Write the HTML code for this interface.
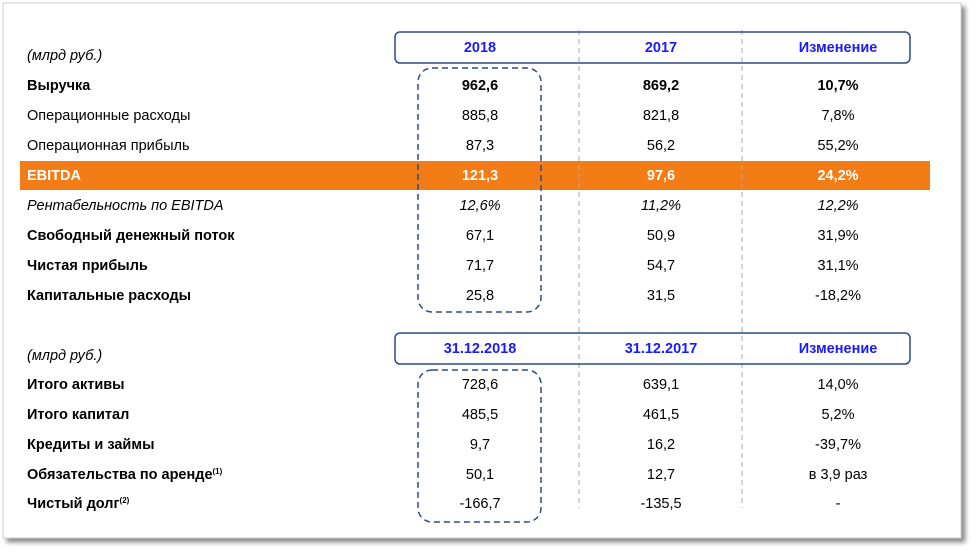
<!DOCTYPE html>
<html><head><meta charset="utf-8"><style>
body{margin:0;background:#fff;width:978px;height:554px;overflow:hidden;font-family:"Liberation Sans",Arial,sans-serif;}
svg text{font-family:"Liberation Sans",Arial,sans-serif;font-size:14.5px;fill:#000;}
</style></head><body>
<svg width="978" height="554" xmlns="http://www.w3.org/2000/svg">
<defs><filter id="sh" x="-5%" y="-5%" width="110%" height="110%"><feDropShadow dx="4" dy="4" stdDeviation="2.5" flood-color="#000" flood-opacity="0.45"/></filter></defs>
<rect x="3" y="3" width="958" height="535" fill="#fff" stroke="#ccc" stroke-width="1" filter="url(#sh)"/>
<rect x="20" y="161" width="910" height="29" fill="#f47c16"/>
<g stroke="#aaa" stroke-dasharray="5,4" stroke-width="1">
<line x1="579" y1="30" x2="579" y2="508"/><line x1="742" y1="30" x2="742" y2="508"/>
</g>
<g fill="none" stroke="#2d4a8a" stroke-width="1.5">
<rect x="395" y="32" width="515" height="31" rx="5"/>
<rect x="395" y="333" width="515" height="31" rx="5"/>
</g>
<g fill="none" stroke="#2d4a8a" stroke-width="1.5" stroke-dasharray="6,4">
<rect x="418" y="68" width="123" height="244" rx="14"/>
<rect x="418" y="370" width="123" height="152" rx="14"/>
</g>
<g font-weight="bold" text-anchor="middle">
<text x="480" y="52" style="fill:#1a1aff">2018</text><text x="661" y="52" style="fill:#1a1aff">2017</text><text x="838" y="52" style="fill:#1a1aff">Изменение</text>
<text x="480" y="353" style="fill:#1a1aff">31.12.2018</text><text x="661" y="353" style="fill:#1a1aff">31.12.2017</text><text x="838" y="353" style="fill:#1a1aff">Изменение</text>
</g>
<text x="27" y="60" font-style="italic">(млрд руб.)</text>
<text x="27" y="360" font-style="italic">(млрд руб.)</text>
<g>
<text x="27" y="90" font-weight="bold">Выручка</text>
<text x="27" y="120">Операционные расходы</text>
<text x="27" y="150">Операционная прибыль</text>
<text x="27" y="180" font-weight="bold" style="fill:#fff">EBITDA</text>
<text x="27" y="210" font-style="italic">Рентабельность по EBITDA</text>
<text x="27" y="240" font-weight="bold">Свободный денежный поток</text>
<text x="27" y="270" font-weight="bold">Чистая прибыль</text>
<text x="27" y="300" font-weight="bold">Капитальные расходы</text>
<text x="27" y="389" font-weight="bold">Итого активы</text>
<text x="27" y="419" font-weight="bold">Итого капитал</text>
<text x="27" y="449" font-weight="bold">Кредиты и займы</text>
<text x="27" y="479" font-weight="bold">Обязательства по аренде<tspan font-size="8" dy="-5">(1)</tspan></text>
<text x="27" y="508" font-weight="bold">Чистый долг<tspan font-size="8" dy="-5">(2)</tspan></text>
</g>
<g text-anchor="middle">
<text x="480" y="90" font-weight="bold">962,6</text><text x="661" y="90" font-weight="bold">869,2</text><text x="838" y="90" font-weight="bold">10,7%</text>
<text x="480" y="120">885,8</text><text x="661" y="120">821,8</text><text x="838" y="120">7,8%</text>
<text x="480" y="150">87,3</text><text x="661" y="150">56,2</text><text x="838" y="150">55,2%</text>
<text x="480" y="180" font-weight="bold" style="fill:#fff">121,3</text><text x="661" y="180" font-weight="bold" style="fill:#fff">97,6</text><text x="838" y="180" font-weight="bold" style="fill:#fff">24,2%</text>
<text x="480" y="210" font-style="italic">12,6%</text><text x="661" y="210" font-style="italic">11,2%</text><text x="838" y="210" font-style="italic">12,2%</text>
<text x="480" y="240">67,1</text><text x="661" y="240">50,9</text><text x="838" y="240">31,9%</text>
<text x="480" y="270">71,7</text><text x="661" y="270">54,7</text><text x="838" y="270">31,1%</text>
<text x="480" y="300">25,8</text><text x="661" y="300">31,5</text><text x="838" y="300">-18,2%</text>
<text x="480" y="389">728,6</text><text x="661" y="389">639,1</text><text x="838" y="389">14,0%</text>
<text x="480" y="419">485,5</text><text x="661" y="419">461,5</text><text x="838" y="419">5,2%</text>
<text x="480" y="449">9,7</text><text x="661" y="449">16,2</text><text x="838" y="449">-39,7%</text>
<text x="480" y="479">50,1</text><text x="661" y="479">12,7</text><text x="838" y="479">в 3,9 раз</text>
<text x="480" y="508">-166,7</text><text x="661" y="508">-135,5</text><text x="838" y="508">-</text>
</g>
</svg>
</body></html>
